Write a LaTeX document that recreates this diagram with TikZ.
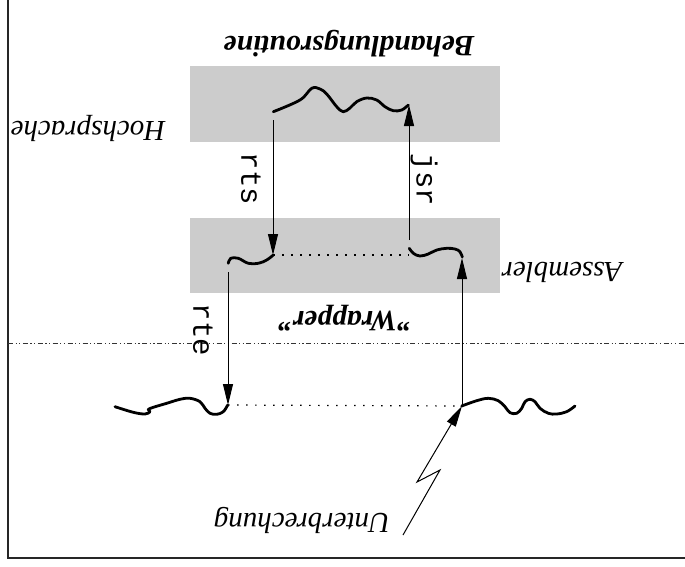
\documentclass[tikz,border=0pt]{standalone}
\usepackage{fontspec}
\setmainfont{Liberation Serif}
\setmonofont{Liberation Mono}
\usetikzlibrary{arrows.meta}
\begin{document}
\begin{tikzpicture}[x=1pt,y=-1pt,
  lbl/.style={inner sep=0pt,rotate=180,font=\fontsize{29}{30}\selectfont\itshape},
  blbl/.style={lbl,font=\fontsize{29.5}{30}\selectfont\bfseries\itshape},
  code/.style={inner sep=0pt,rotate=-90,font=\fontsize{29}{30}\selectfont\ttfamily},
  layer/.style={fill=black!20,draw=none},
  flow/.style={line width=1pt,-{Triangle[length=21pt,width=10pt]}},
  wave/.style={line width=2.8pt,line cap=round,line join=round},
  dots/.style={line width=1.2pt,dash pattern=on 1.5pt off 7.5pt},
  frame/.style={line width=2pt,draw=black!85}]
\useasboundingbox (0,0) rectangle (685,566);
% frame
\draw[frame] (8,0) -- (8,558) -- (685,558);
% gray layers
\node[layer,minimum width=310pt,minimum height=76pt,inner sep=0pt] (hl) at (345,104) {};
\node[layer,minimum width=310pt,minimum height=75pt,inner sep=0pt] (as) at (345,255.5) {};
% separator
\draw[line width=1pt,draw=black!80,dash pattern=on 5pt off 2.5pt on 1.2pt off 2.5pt on 1.2pt off 2.5pt] (8,343) -- (685,343);
% labels
\node[blbl] (title) at (349,44) {Behandlungsroutine};
\node[lbl] (hoch) at (88,128) {Hochsprache};
\node[lbl] (asm) at (562,272) {Assembler};
\node[blbl] (wrap) at (345,318) {{\char"22}Wrapper{\char"22}};
\node[lbl] (unt) at (302,520) {Unterbrechung};
\node[code] (rts) at (251,179) {rts};
\node[code] (jsr) at (424,180) {jsr};
\node[code] (rte) at (203,330) {rte};
% squiggles
\draw[wave] plot[smooth,tension=0.6] coordinates {(273.3,111.7) (300,100) (311.7,88.3) (320,89) (326.7,94) (336.7,106.7) (343.3,111.7) (350,108) (356.7,101.7) (366.7,98) (376.7,100) (385,106.7) (393.3,110.7) (401.7,110) (408.3,105)};
\draw[wave] plot[smooth,tension=0.6] coordinates {(228.3,263.3) (230.7,258.3) (238.3,258.3) (248.3,263.3) (258.3,263.3) (266.7,260) (273.3,255)};
\draw[wave] plot[smooth,tension=0.6] coordinates {(409.3,248.3) (413.3,253.3) (420,256) (428.3,254) (436.7,250) (446.7,248.3) (455,249) (460,251.7) (462.3,257)};
\draw[wave] plot[smooth,tension=0.6] coordinates {(115,406.7) (133.3,412.3) (145,414) (150,411.7) (148.3,409.5) (153.3,407.3) (166.7,403.3) (180,399.3) (190,398.3) (200,401.7) (205,408.3) (210,413.3) (216.7,414.3) (223.3,411.7) (227.7,405)};
\draw[wave] plot[smooth,tension=0.6] coordinates {(461.7,406) (476.7,400.7) (488.3,398.3) (498.3,400.7) (505,406.7) (510,412.7) (516.7,413.3) (521.7,408.3) (525,401.7) (530,399.3) (535,401.7) (540,408.3) (548.3,413.3) (556.7,414) (566.7,411.7) (575,406)};
% named end points
\coordinate (rtsA) at (273,120);
\coordinate (rtsB) at (273,255);
\coordinate (jsrA) at (409,240);
\coordinate (jsrB) at (409,105);
\coordinate (rteA) at (228,272);
\coordinate (rteB) at (228,405);
\coordinate (retA) at (462,406);
\coordinate (retB) at (462,258);
\coordinate (zA) at (403,535);
\coordinate (zB) at (440,470);
\coordinate (zC) at (417,482);
% dotted links
\draw[dots] (rtsB) -- (jsrA |- rtsB);
\draw[dots] (rteB) -- (retA);
% arrows
\draw[flow] (rtsA) -- (rtsB);
\draw[flow] (jsrA) -- (jsrB);
\draw[flow] (rteA) -- (rteB);
\draw[flow] (retA) -- (retB);
\draw[flow,line join=miter] (zA) -- (zB) -- (zC) -- (retA);
\end{tikzpicture}
\end{document}
